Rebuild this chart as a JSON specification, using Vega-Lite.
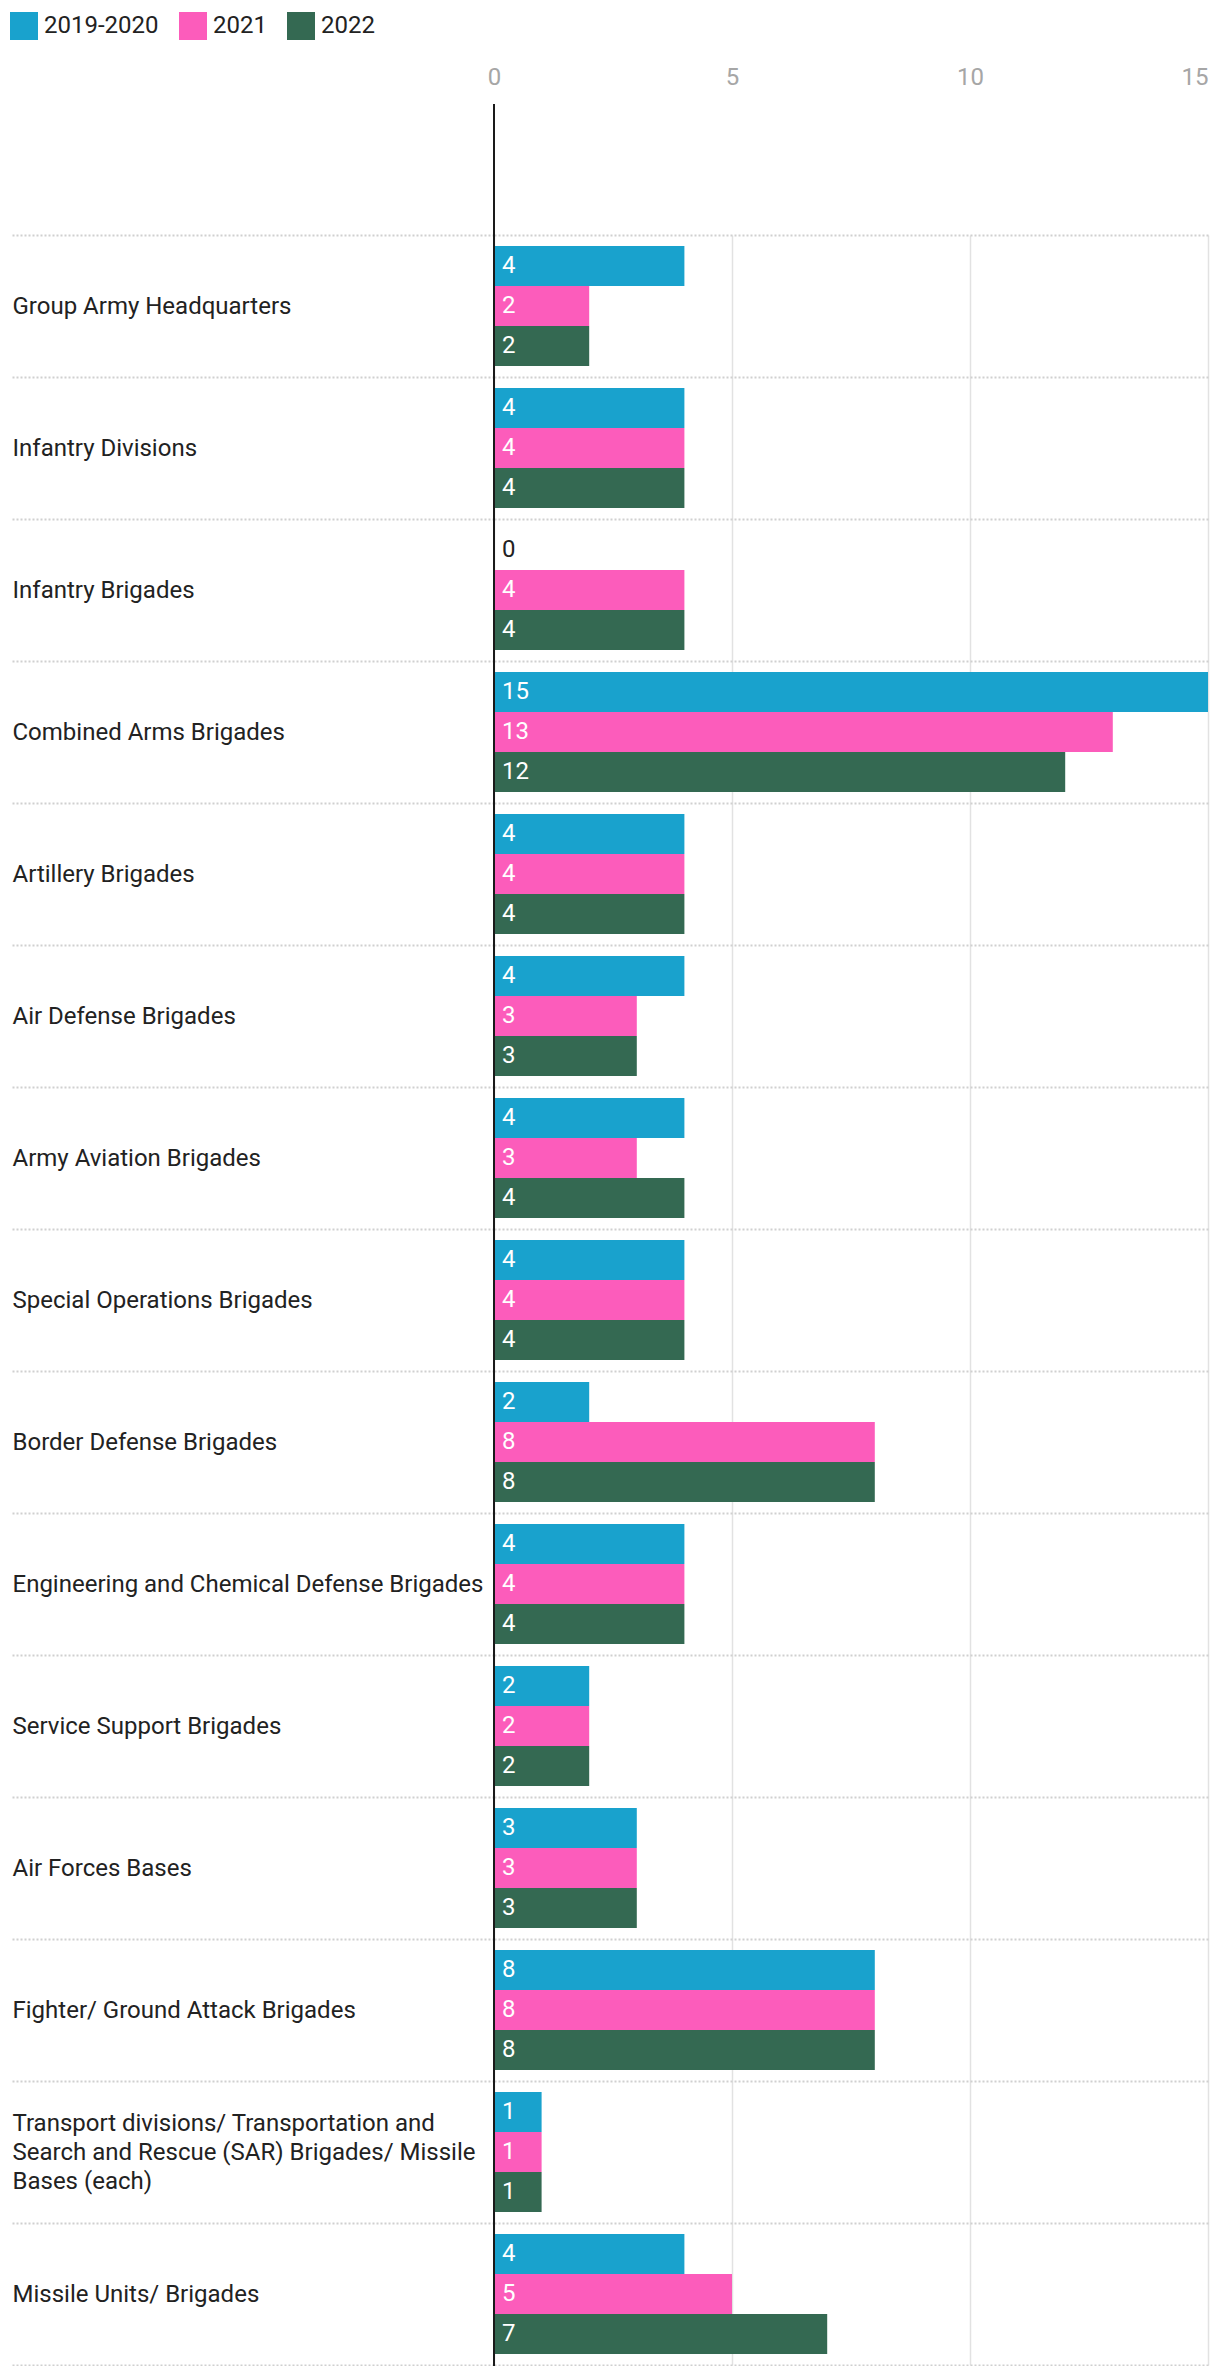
{
  "$schema": "https://vega.github.io/schema/vega-lite/v6.json",
  "autosize": "none",
  "width": 714,
  "height": 2262,
  "padding": {"left": 494, "top": 104, "right": 12, "bottom": 0},
  "background": "white",
  "config": {
    "view": {"stroke": null},
    "font": "Roboto"
  },
  "data": {
    "values": [
      {"unit": "Group Army Headquarters", "period": "2019-2020", "value": 4},
      {"unit": "Group Army Headquarters", "period": "2021", "value": 2},
      {"unit": "Group Army Headquarters", "period": "2022", "value": 2},
      {"unit": "Infantry Divisions", "period": "2019-2020", "value": 4},
      {"unit": "Infantry Divisions", "period": "2021", "value": 4},
      {"unit": "Infantry Divisions", "period": "2022", "value": 4},
      {"unit": "Infantry Brigades", "period": "2019-2020", "value": 0},
      {"unit": "Infantry Brigades", "period": "2021", "value": 4},
      {"unit": "Infantry Brigades", "period": "2022", "value": 4},
      {"unit": "Combined Arms Brigades", "period": "2019-2020", "value": 15},
      {"unit": "Combined Arms Brigades", "period": "2021", "value": 13},
      {"unit": "Combined Arms Brigades", "period": "2022", "value": 12},
      {"unit": "Artillery Brigades", "period": "2019-2020", "value": 4},
      {"unit": "Artillery Brigades", "period": "2021", "value": 4},
      {"unit": "Artillery Brigades", "period": "2022", "value": 4},
      {"unit": "Air Defense Brigades", "period": "2019-2020", "value": 4},
      {"unit": "Air Defense Brigades", "period": "2021", "value": 3},
      {"unit": "Air Defense Brigades", "period": "2022", "value": 3},
      {"unit": "Army Aviation Brigades", "period": "2019-2020", "value": 4},
      {"unit": "Army Aviation Brigades", "period": "2021", "value": 3},
      {"unit": "Army Aviation Brigades", "period": "2022", "value": 4},
      {"unit": "Special Operations Brigades", "period": "2019-2020", "value": 4},
      {"unit": "Special Operations Brigades", "period": "2021", "value": 4},
      {"unit": "Special Operations Brigades", "period": "2022", "value": 4},
      {"unit": "Border Defense Brigades", "period": "2019-2020", "value": 2},
      {"unit": "Border Defense Brigades", "period": "2021", "value": 8},
      {"unit": "Border Defense Brigades", "period": "2022", "value": 8},
      {"unit": "Engineering and Chemical Defense Brigades", "period": "2019-2020", "value": 4},
      {"unit": "Engineering and Chemical Defense Brigades", "period": "2021", "value": 4},
      {"unit": "Engineering and Chemical Defense Brigades", "period": "2022", "value": 4},
      {"unit": "Service Support Brigades", "period": "2019-2020", "value": 2},
      {"unit": "Service Support Brigades", "period": "2021", "value": 2},
      {"unit": "Service Support Brigades", "period": "2022", "value": 2},
      {"unit": "Air Forces Bases", "period": "2019-2020", "value": 3},
      {"unit": "Air Forces Bases", "period": "2021", "value": 3},
      {"unit": "Air Forces Bases", "period": "2022", "value": 3},
      {"unit": "Fighter/ Ground Attack Brigades", "period": "2019-2020", "value": 8},
      {"unit": "Fighter/ Ground Attack Brigades", "period": "2021", "value": 8},
      {"unit": "Fighter/ Ground Attack Brigades", "period": "2022", "value": 8},
      {"unit": "Transport divisions/ Transportation and Search and Rescue (SAR) Brigades/ Missile Bases (each)", "period": "2019-2020", "value": 1},
      {"unit": "Transport divisions/ Transportation and Search and Rescue (SAR) Brigades/ Missile Bases (each)", "period": "2021", "value": 1},
      {"unit": "Transport divisions/ Transportation and Search and Rescue (SAR) Brigades/ Missile Bases (each)", "period": "2022", "value": 1},
      {"unit": "Missile Units/ Brigades", "period": "2019-2020", "value": 4},
      {"unit": "Missile Units/ Brigades", "period": "2021", "value": 5},
      {"unit": "Missile Units/ Brigades", "period": "2022", "value": 7}
    ]
  },
  "encoding": {
    "y": {
      "field": "unit",
      "type": "nominal",
      "sort": null,
      "scale": {"range": [131, 2261], "paddingInner": 0, "paddingOuter": 0},
      "axis": {
        "title": null,
        "domain": false,
        "ticks": true,
        "tickBand": "extent",
        "tickSize": 482,
        "tickColor": "#d0d0d0",
        "tickDash": [2, 2],
        "tickWidth": 2,
        "grid": true,
        "gridColor": "#d0d0d0",
        "gridDash": [2, 2],
        "gridWidth": 2,
        "labelAlign": "left",
        "labelPadding": 0,
        "labelLimit": 0,
        "labelFont": "Roboto",
        "labelFontSize": 24,
        "labelColor": "#222222",
        "labelLineHeight": 29,
        "labelOffset": {"condition": {"test": "indexof(datum.label, 'Transport divisions') == 0", "value": -29}, "value": 0},
        "labelExpr": "datum.label == 'Transport divisions/ Transportation and Search and Rescue (SAR) Brigades/ Missile Bases (each)' ? ['Transport divisions/ Transportation and', 'Search and Rescue (SAR) Brigades/ Missile', 'Bases (each)'] : datum.label"
      }
    },
    "yOffset": {
      "field": "period",
      "type": "nominal",
      "sort": ["2019-2020", "2021", "2022"],
      "scale": {"paddingInner": 0, "paddingOuter": 0.275}
    }
  },
  "layer": [
    {
      "mark": {"type": "bar", "cornerRadius": 0},
      "encoding": {
        "x": {
          "field": "value",
          "type": "quantitative",
          "scale": {"domain": [0, 15], "nice": false, "zero": true},
          "axis": {
            "orient": "top",
            "title": null,
            "values": [0, 5, 10, 15],
            "domain": false,
            "ticks": false,
            "grid": true,
            "gridColor": "#e2e2e2",
            "gridWidth": 1.5,
            "labelFont": "Roboto",
            "labelFontSize": 24,
            "labelColor": "#a6a6a6",
            "labelPadding": 15,
            "labelAlign": {"condition": {"test": "datum.value == 15", "value": "right"}, "value": "center"}
          }
        },
        "color": {
          "field": "period",
          "type": "nominal",
          "scale": {"domain": ["2019-2020", "2021", "2022"], "range": ["#19a2cd", "#fc5cbb", "#346952"]},
          "legend": {
            "orient": "none",
            "legendX": -484,
            "legendY": -92,
            "direction": "horizontal",
            "title": null,
            "symbolType": "square",
            "symbolSize": 784,
            "symbolStrokeWidth": 0,
            "symbolOpacity": 1,
            "labelFont": "Roboto",
            "labelFontSize": 24,
            "labelColor": "#222222",
            "labelOffset": 6,
            "columnPadding": 20
          }
        }
      }
    },
    {
      "mark": {"type": "text", "align": "left", "baseline": "middle", "dx": 8, "font": "Roboto", "fontSize": 24},
      "encoding": {
        "x": {"datum": 0, "type": "quantitative"},
        "text": {"field": "value", "type": "quantitative"},
        "color": {"condition": {"test": "datum.value === 0", "value": "#222222"}, "value": "#ffffff"}
      }
    },
    {
      "data": {"values": [{"zero": 0}]},
      "mark": {"type": "rule", "color": "#1a1a1a", "strokeWidth": 2},
      "encoding": {
        "x": {"field": "zero", "type": "quantitative"},
        "y": null,
        "yOffset": null
      }
    }
  ]
}
